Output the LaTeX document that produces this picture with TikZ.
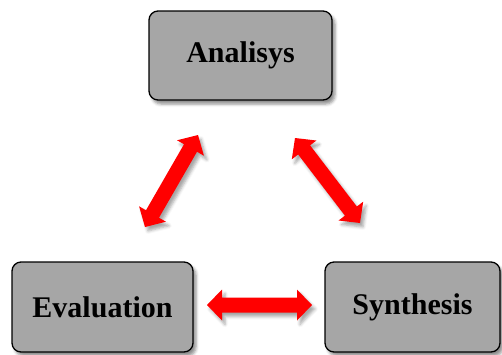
\documentclass[tikz,border=0pt]{standalone}
\usepackage{fontspec}
\setmainfont{Liberation Serif}
\usetikzlibrary{calc,shadows.blur}
\definecolor{boxgray}{HTML}{A6A6A6}
\tikzset{
  stagebox/.style={draw=black, line width=1.3pt, fill=boxgray, rounded corners=9pt,
    inner sep=0pt, font=\fontsize{30}{36}\selectfont\bfseries,
    blur shadow={shadow xshift=3pt, shadow yshift=-4pt, shadow blur radius=3pt, shadow opacity=45}},
  fatarrowstyle/.style={fill=red,
    blur shadow={shadow xshift=3pt, shadow yshift=-4pt, shadow blur radius=3pt, shadow opacity=35}}
}
\newcommand\fatarrow[2]{%
  \fill[fatarrowstyle] (#1)
    -- ($($(#1)!15pt!(#2)$)!15.5pt!90:(#2)$)
    -- ($($(#1)!15pt!(#2)$)!7.5pt!90:(#2)$)
    -- ($($(#2)!15pt!(#1)$)!7.5pt!-90:(#1)$)
    -- ($($(#2)!15pt!(#1)$)!15.5pt!-90:(#1)$)
    -- (#2)
    -- ($($(#2)!15pt!(#1)$)!15.5pt!90:(#1)$)
    -- ($($(#2)!15pt!(#1)$)!7.5pt!90:(#1)$)
    -- ($($(#1)!15pt!(#2)$)!7.5pt!-90:(#2)$)
    -- ($($(#1)!15pt!(#2)$)!15.5pt!-90:(#2)$)
    -- cycle;}
\begin{document}
\begin{tikzpicture}[x=1pt,y=-1pt]
\useasboundingbox (0,0) rectangle (502,354);
\node[stagebox, minimum width=183pt, minimum height=89pt] (ana) at (240.5,55.5) {Analisys};
\node[stagebox, minimum width=181pt, minimum height=90pt] (eva) at (102.5,307) {Evaluation};
\node[stagebox, minimum width=175pt, minimum height=90pt] (syn) at (412.5,307) {Synthesis};
\coordinate (l1) at (145,227);
\coordinate (l2) at (198,135);
\coordinate (r1) at (295,138);
\coordinate (r2) at (360,223);
\coordinate (h1) at (207,305);
\coordinate (h2) at (312,305);
\fatarrow{l1}{l2}
\fatarrow{r1}{r2}
\fatarrow{h1}{h2}
\end{tikzpicture}
\end{document}
